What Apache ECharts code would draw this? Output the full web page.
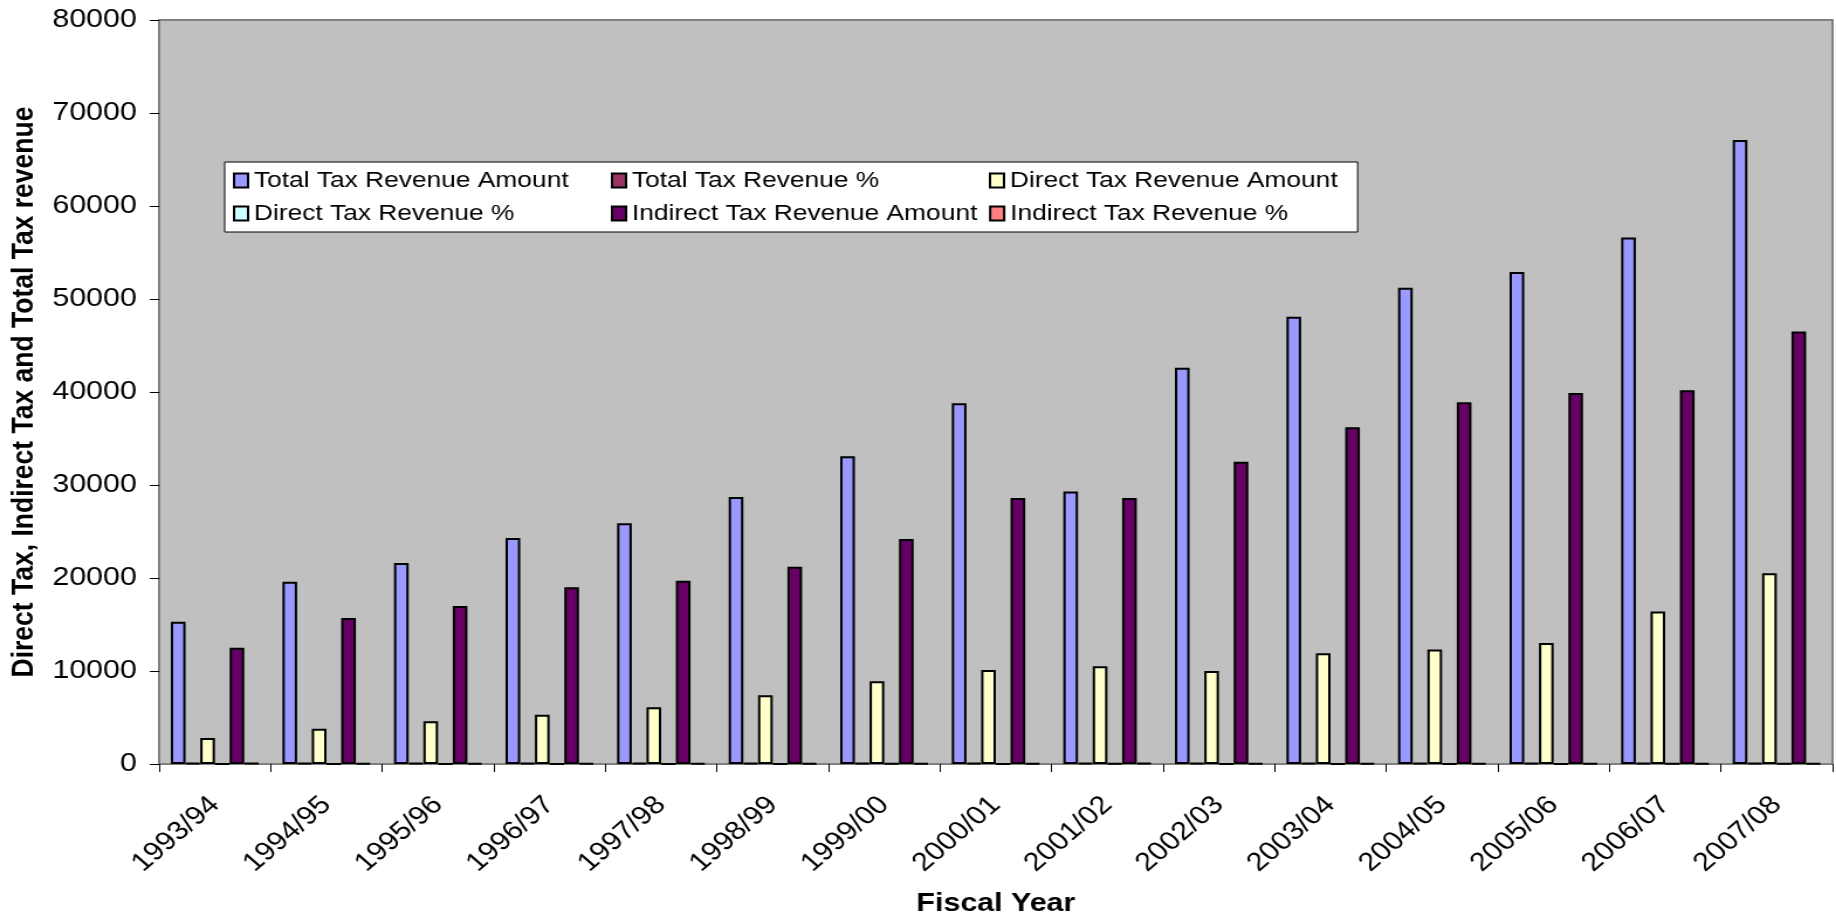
<!DOCTYPE html>
<html>
<head>
<meta charset="utf-8">
<title>Tax Revenue by Fiscal Year</title>
<script src="https://cdn.jsdelivr.net/npm/echarts@6/dist/echarts.min.js"></script>
<style>
  html, body { margin: 0; padding: 0; background: #fff; overflow: hidden; }
  /* chart is laid out on a narrower canvas and widened to fill the page */
  #chart { width: 1569px; height: 919px; transform: scaleX(1.1702); transform-origin: 0 0; }
</style>
</head>
<body>
<div id="chart"></div>
<script>
const fiscalYears = ['1993/94', '1994/95', '1995/96', '1996/97', '1997/98', '1998/99', '1999/00',
  '2000/01', '2001/02', '2002/03', '2003/04', '2004/05', '2005/06', '2006/07', '2007/08'];

const totalAmount = [15300, 19600, 21600, 24300, 25900, 28700, 33100, 38800, 29300, 42600, 48100, 51200, 52900, 56600, 67100];
const totalPct = [100, 100, 100, 100, 100, 100, 100, 100, 100, 100, 100, 100, 100, 100, 100];
const directAmount = [2800, 3800, 4600, 5300, 6100, 7400, 8900, 10100, 10500, 10000, 11900, 12300, 13000, 16400, 20500];
const directPct = [18.3, 19.4, 21.3, 21.8, 23.6, 25.8, 26.9, 26.0, 35.8, 23.5, 24.7, 24.0, 24.6, 29.0, 30.6];
const indirectAmount = [12500, 15700, 17000, 19000, 19700, 21200, 24200, 28600, 28600, 32500, 36200, 38900, 39900, 40200, 46500];
const indirectPct = [81.7, 80.1, 78.7, 78.2, 76.1, 73.9, 73.1, 73.7, 97.6, 76.3, 75.3, 76.0, 75.4, 71.0, 69.3];

const yTicks = { min: 0, max: 80000, interval: 10000 };

const FONT = "'Liberation Sans', Arial, sans-serif";

const seriesDefs = [
  { name: 'Total Tax Revenue Amount', data: totalAmount, color: '#9999FF' },
  { name: 'Total Tax Revenue %', data: totalPct, color: '#993366' },
  { name: 'Direct Tax Revenue Amount', data: directAmount, color: '#FFFFCC' },
  { name: 'Direct Tax Revenue %', data: directPct, color: '#CCFFFF' },
  { name: 'Indirect Tax Revenue Amount', data: indirectAmount, color: '#660066' },
  { name: 'Indirect Tax Revenue %', data: indirectPct, color: '#FF8080' }
];

const chart = echarts.init(document.getElementById('chart'));

chart.setOption({
  animation: false,
  textStyle: { fontFamily: FONT, color: '#000' },
  grid: {
    left: 136, right: 3, top: 20, bottom: 155,
    containLabel: false,
    outerBoundsMode: 'none',
    show: true, backgroundColor: '#C0C0C0', borderColor: '#808080', borderWidth: 2
  },
  legend: {
    left: 192, top: 162,
    width: 960,
    orient: 'horizontal',
    padding: [7, 2, 7, 7],
    itemGap: 10,
    itemWidth: 12,
    itemHeight: 14,
    icon: 'rect',
    backgroundColor: '#fff',
    borderColor: '#000',
    borderWidth: 1,
    itemStyle: { borderColor: '#000', borderWidth: 2 },
    textStyle: { fontFamily: FONT, fontSize: 22.5, color: '#000', width: 295, lineHeight: 23 },
    data: seriesDefs.map(s => s.name)
  },
  xAxis: {
    type: 'category',
    data: fiscalYears,
    name: 'Fiscal Year',
    nameLocation: 'middle',
    nameGap: 127,
    nameTextStyle: { fontFamily: FONT, fontSize: 26, fontWeight: 'bold', color: '#000' },
    axisLine: { show: true, lineStyle: { color: '#808080', width: 2 } },
    axisTick: { show: true, alignWithLabel: false, length: 8, lineStyle: { color: '#000' } },
    axisLabel: { rotate: 45, margin: 37, fontSize: 26, color: '#000', fontFamily: FONT, interval: 0 },
    splitLine: { show: false }
  },
  yAxis: {
    type: 'value',
    min: yTicks.min, max: yTicks.max, interval: yTicks.interval,
    name: 'Direct Tax, Indirect Tax and Total Tax revenue',
    nameLocation: 'middle',
    nameRotate: 90,
    nameGap: 99,
    nameTextStyle: { fontFamily: FONT, fontSize: 26.5, fontWeight: 'bold', color: '#000' },
    axisLine: { show: true, lineStyle: { color: '#808080', width: 2 } },
    axisTick: { show: true, length: 8, lineStyle: { color: '#000' } },
    axisLabel: { margin: 19, fontSize: 26, color: '#000', fontFamily: FONT, formatter: v => String(v) },
    splitLine: { show: false }
  },
  series: seriesDefs.map(s => ({
    name: s.name,
    type: 'bar',
    data: s.data,
    barGap: '0%',
    barCategoryGap: '21%',
    itemStyle: { color: s.color, borderColor: '#000', borderWidth: 2 }
  }))
});
</script>
</body>
</html>
